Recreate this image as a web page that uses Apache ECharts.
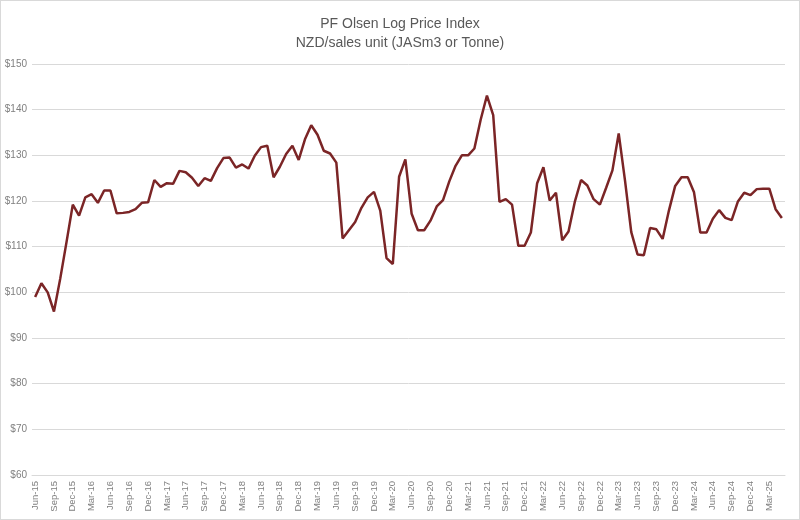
<!DOCTYPE html>
<html>
<head>
<meta charset="utf-8">
<script src="https://cdn.jsdelivr.net/npm/echarts@6/dist/echarts.min.js"></script>
<style>
  html, body { margin: 0; padding: 0; background: #fff; }
  #chart { width: 798px; height: 518px; border: 1px solid #d9d9d9; }
</style>
</head>
<body>
<div id="chart"></div>
<script>
const months = ['Jan', 'Feb', 'Mar', 'Apr', 'May', 'Jun', 'Jul', 'Aug', 'Sep', 'Oct', 'Nov', 'Dec'];
const categories = [];
for (let y = 2015; y <= 2025; y++) {
    for (let m = 0; m < 12; m++) {
        if (y === 2015 && m < 5) continue;
        if (y === 2025 && m > 4) continue;
        categories.push(months[m] + '-' + String(y).slice(2));
    }
}

const prices = [
    99, 102, 100, 95.8, 103, 111, 119.2,
    116.8, 120.8, 121.5, 119.6, 122.3, 122.3, 117.3, 117.4, 117.6, 118.2, 119.6, 119.7,
    124.6, 123.1, 123.9, 123.8, 126.6, 126.3, 125.1, 123.3, 125, 124.4, 127.2, 129.4,
    129.5, 127.3, 128, 127.1, 129.9, 131.8, 132.1, 125.2, 127.5, 130.3, 132.1, 129,
    133.5, 136.6, 134.5, 131, 130.4, 128.4, 111.8, 113.6, 115.4, 118.5, 120.8, 122,
    117.9, 107.5, 106.2, 125.3, 129.1, 117.2, 113.6, 113.6, 115.7, 118.8, 120.2, 124.3,
    127.7, 130, 130, 131.5, 137.8, 143.1, 138.8, 119.8, 120.4, 119.2, 110.2, 110.2,
    113.1, 123.9, 127.4, 120.1, 121.8, 111.4, 113.3, 119.8, 124.6, 123.4, 120.4, 119.2,
    122.9, 126.7, 134.8, 124.5, 113.2, 108.3, 108.1, 114.1, 113.8, 111.7, 117.9, 123.3,
    125.2, 125.2, 121.9, 113.1, 113.1, 116.1, 118, 116.3, 115.8, 119.9, 121.8, 121.3,
    122.6, 122.7, 122.7, 118.2, 116.3
];

const chart = echarts.init(document.getElementById('chart'));
chart.setOption({
    animation: false,
    textStyle: { fontFamily: 'Liberation Sans, Arial, sans-serif' },
    title: {
        text: 'PF Olsen Log Price Index\nNZD/sales unit (JASm3 or Tonne)',
        left: 'center',
        top: 9,
        textStyle: { fontSize: 14, fontWeight: 'normal', color: '#595959', lineHeight: 19 }
    },
    grid: { left: 31, right: 14, top: 63, bottom: 44 },
    xAxis: {
        type: 'category',
        data: categories,
        boundaryGap: true,
        axisLine: { lineStyle: { color: '#d9d9d9' } },
        axisTick: { show: false },
        axisLabel: { interval: 2, rotate: 90, color: '#7f7f7f', fontSize: 9.5, margin: 6 }
    },
    yAxis: {
        type: 'value',
        min: 60,
        max: 150,
        interval: 10,
        axisLine: { show: false },
        axisTick: { show: false },
        splitLine: { lineStyle: { color: '#d9d9d9' } },
        axisLabel: { color: '#7f7f7f', fontSize: 10, margin: 5, formatter: v => '$' + v }
    },
    series: [{
        type: 'line',
        data: prices,
        symbol: 'none',
        lineStyle: { color: '#7b2526', width: 2.5 }
    }]
});
</script>
</body>
</html>
